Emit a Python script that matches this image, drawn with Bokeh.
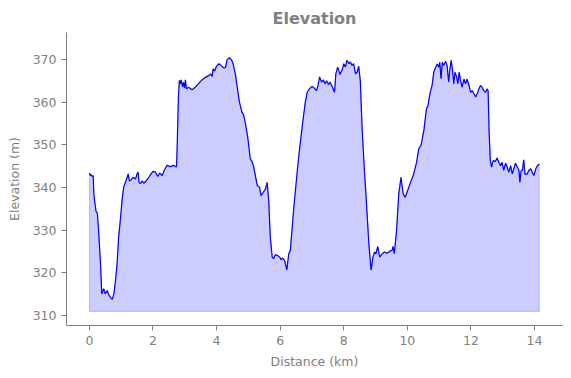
from bokeh.plotting import figure
from bokeh.models import Range1d, FixedTicker
from bokeh.embed import file_html
from bokeh.resources import INLINE

title_text = "Elevation"
x_label = "Distance (km)"
y_label = "Elevation (m)"
base_elev = 311.0

dist_km = [
    0.00, 0.03, 0.06, 0.09, 0.12, 0.14, 0.18, 0.21, 0.25, 0.29, 0.35, 0.39, 0.45, 0.50, 0.56,
    0.61, 0.66, 0.72, 0.77, 0.82, 0.87, 0.92, 0.98, 1.03, 1.08, 1.13, 1.19, 1.22, 1.26, 1.31,
    1.37, 1.45, 1.50, 1.53, 1.56, 1.60, 1.66, 1.71, 1.79, 1.87, 1.94, 2.00, 2.08, 2.15, 2.21,
    2.29, 2.36, 2.44, 2.55, 2.65, 2.74, 2.76, 2.80, 2.83, 2.86, 2.89, 2.93, 2.96, 2.99, 3.02,
    3.05, 3.12, 3.23, 3.33, 3.44, 3.54, 3.65, 3.75, 3.81, 3.86, 3.89, 3.94, 3.99, 4.07, 4.14,
    4.23, 4.28, 4.33, 4.40, 4.47, 4.52, 4.59, 4.65, 4.72, 4.80, 4.85, 4.91, 4.98, 5.01, 5.06,
    5.12, 5.17, 5.22, 5.28, 5.35, 5.40, 5.47, 5.54, 5.59, 5.64, 5.69, 5.75, 5.80, 5.85, 5.92,
    5.99, 6.03, 6.08, 6.14, 6.21, 6.27, 6.32, 6.37, 6.43, 6.50, 6.58, 6.69, 6.79, 6.85, 6.92,
    7.00, 7.07, 7.14, 7.19, 7.24, 7.30, 7.36, 7.41, 7.46, 7.52, 7.57, 7.63, 7.71, 7.75, 7.81,
    7.88, 7.95, 8.00, 8.05, 8.10, 8.16, 8.21, 8.26, 8.31, 8.37, 8.42, 8.47, 8.52, 8.58, 8.65,
    8.71, 8.79, 8.86, 8.92, 8.97, 9.01, 9.07, 9.13, 9.21, 9.28, 9.36, 9.45, 9.52, 9.55, 9.59,
    9.66, 9.73, 9.80, 9.87, 9.93, 9.99, 10.10, 10.20, 10.29, 10.36, 10.43, 10.52, 10.60, 10.65,
    10.71, 10.78, 10.83, 10.88, 10.94, 10.99, 11.02, 11.06, 11.10, 11.15, 11.20, 11.25, 11.30,
    11.34, 11.38, 11.42, 11.46, 11.50, 11.55, 11.59, 11.63, 11.67, 11.72, 11.78, 11.83, 11.88,
    11.94, 11.99, 12.04, 12.09, 12.15, 12.20, 12.25, 12.30, 12.35, 12.40, 12.46, 12.51, 12.54,
    12.57, 12.61, 12.65, 12.70, 12.77, 12.82, 12.88, 12.93, 12.98, 13.03, 13.09, 13.14, 13.19,
    13.25, 13.30, 13.35, 13.40, 13.46, 13.51, 13.54, 13.58, 13.62, 13.66, 13.70, 13.77, 13.82,
    13.88, 13.93, 13.98, 14.04, 14.09, 14.15,
]

elev_m = [
    343.4, 342.8, 343.0, 342.6, 342.8, 338.5, 336.0, 334.4, 334.0, 329.9, 322.1, 315.1, 316.3, 315.1, 315.9,
    314.9, 314.3, 313.8, 315.1, 318.2, 322.1, 328.4, 333.0, 337.3, 340.1, 341.2, 342.4, 343.2, 341.5, 341.8,
    342.4, 342.0, 343.2, 343.6, 341.2, 340.9, 341.6, 341.0, 341.6, 342.4, 343.2, 343.8, 343.6, 342.6, 343.4,
    342.8, 344.1, 345.2, 344.9, 345.2, 344.8, 349.4, 361.2, 365.1, 364.3, 365.2, 363.6, 364.6, 363.3, 365.2,
    363.1, 363.5, 362.9, 363.5, 364.4, 365.2, 365.8, 366.2, 366.6, 366.0, 367.8, 367.3, 368.3, 369.0, 368.6,
    368.0, 368.1, 369.9, 370.4, 369.9, 369.0, 366.6, 363.5, 360.0, 357.6, 357.0, 354.9, 351.8, 349.9, 346.7,
    346.0, 344.8, 342.8, 340.5, 340.1, 338.1, 338.9, 339.7, 341.2, 337.0, 328.4, 323.7, 323.4, 324.3, 324.1,
    323.7, 323.1, 323.5, 322.9, 320.7, 324.5, 325.3, 329.9, 335.4, 340.9, 347.1, 354.1, 360.0, 362.3, 363.1,
    363.7, 363.3, 362.7, 363.9, 365.9, 364.7, 365.2, 364.3, 365.0, 364.1, 364.7, 363.7, 362.3, 366.6, 368.2,
    366.5, 367.5, 369.0, 368.2, 369.8, 369.0, 369.4, 368.6, 369.0, 366.6, 367.0, 368.4, 365.1, 353.4, 344.0,
    337.0, 326.8, 320.7, 323.7, 324.9, 324.5, 326.2, 323.7, 324.5, 324.9, 324.6, 325.1, 325.3, 326.2, 324.5,
    329.9, 338.5, 342.4, 338.5, 337.7, 338.9, 341.2, 343.2, 345.9, 349.1, 349.9, 353.4, 358.4, 359.2,
    362.0, 364.0, 367.0, 368.0, 368.9, 368.2, 369.3, 365.5, 369.3, 368.6, 369.6, 368.6, 364.7,
    367.8, 369.8, 367.5, 364.3, 367.0, 365.9, 364.3, 367.0, 365.2, 363.5, 365.4, 364.3, 365.4,
    363.9, 362.3, 362.7, 362.0, 361.2, 362.0, 363.1, 363.9, 363.5, 362.7, 362.3, 363.1, 362.7,
    353.4, 346.3, 344.8, 346.3, 346.1, 346.9, 345.9, 345.1, 345.9, 344.0, 345.7, 344.8, 343.6,
    345.1, 343.2, 344.4, 345.7, 344.8, 344.0, 341.2, 344.0, 344.0, 346.5, 343.1, 343.2, 344.0,
    344.4, 343.6, 342.8, 344.4, 345.1, 345.5,
]

x_ticks = [0, 2, 4, 6, 8, 10, 12, 14]
y_ticks = [310, 320, 330, 340, 350, 360, 370]

GRAY = "#808080"
FONT = "DejaVu Sans"

p = figure(width=571, height=378, output_backend="svg", toolbar_location=None,
           x_range=Range1d(-0.72, 14.88), y_range=Range1d(307.7, 376.3),
           min_border_left=66, min_border_right=9, min_border_top=32, min_border_bottom=53)

p.title.text = title_text
p.title.align = "center"
p.title.text_font = FONT
p.title.text_font_size = "16px"
p.title.text_font_style = "bold"
p.title.text_color = GRAY
p.title.offset = 0

p.outline_line_color = None
p.background_fill_color = "white"
p.border_fill_color = "white"
p.xgrid.visible = False
p.ygrid.visible = False

# Filled area (polygon built from the data arrays)
patch_x = [dist_km[0]] + dist_km + [dist_km[-1]]
patch_y = [base_elev] + elev_m + [base_elev]
p.patch(patch_x, patch_y, fill_color="blue", fill_alpha=0.2,
        line_color="blue", line_alpha=0.2, line_width=1)
p.line(dist_km, elev_m, line_color="blue", line_width=1.2)

for ax, ticks, lab in ((p.xaxis[0], x_ticks, x_label), (p.yaxis[0], y_ticks, y_label)):
    ax.ticker = FixedTicker(ticks=ticks)
    ax.axis_label = lab
    ax.axis_label_text_font = FONT
    ax.axis_label_text_font_size = "12.5px"
    ax.axis_label_text_font_style = "normal"
    ax.axis_label_text_color = GRAY
    ax.major_label_text_font = FONT
    ax.major_label_text_font_size = "12.5px"
    ax.major_label_text_color = GRAY
    ax.axis_line_color = GRAY
    ax.axis_line_width = 1
    ax.major_tick_line_color = GRAY
    ax.major_tick_out = 5
    ax.major_tick_in = 0
    ax.minor_tick_line_color = None
    ax.major_label_standoff = 5
    ax.axis_label_standoff = 6

p.yaxis[0].axis_label_standoff = 8

open("out.html", "w").write(file_html(p, INLINE))
